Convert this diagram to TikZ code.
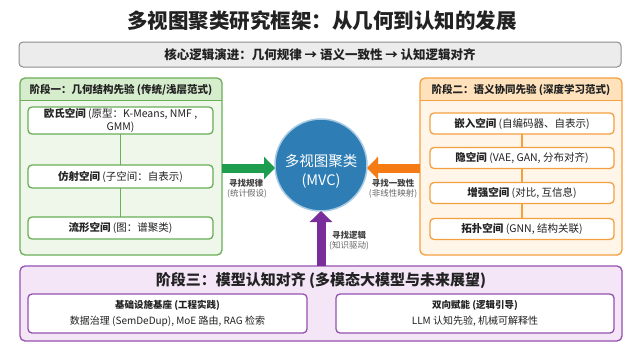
\documentclass[tikz,border=0pt]{standalone}
\usepackage{fontspec}
\setmainfont{Noto Sans CJK SC}
\usetikzlibrary{arrows.meta}
\definecolor{txt}{HTML}{222222}
\definecolor{subtxt}{HTML}{666666}
\definecolor{corefill}{HTML}{ECECEC}
\definecolor{coredraw}{HTML}{8C8C8C}
\definecolor{gfill}{HTML}{EEF7EA}
\definecolor{ghead}{HTML}{D6EDCD}
\definecolor{gdraw}{HTML}{6AAE57}
\definecolor{garr}{HTML}{1F9D4E}
\definecolor{ofill}{HTML}{FFF5E8}
\definecolor{ohead}{HTML}{FFE2BC}
\definecolor{odraw}{HTML}{F4A041}
\definecolor{oarr}{HTML}{F57C14}
\definecolor{pfill}{HTML}{F4E5F7}
\definecolor{pdraw}{HTML}{9550B0}
\definecolor{parr}{HTML}{7A2E9C}
\definecolor{cfill}{HTML}{2E7DB5}
\definecolor{cring}{HTML}{A8CBE4}
\begin{document}
\begin{tikzpicture}[x=1pt,y=-1pt,
  every node/.style={inner sep=0pt,outer sep=0pt,text=txt},
  panel/.style={rounded corners=5pt,line width=1.3pt},
  ibox/.style={draw,fill=white,rounded corners=4pt,line width=1.3pt,align=center,font=\fontsize{10.5}{13}\selectfont},
  hdr/.style={font=\fontsize{10.5}{13}\selectfont\bfseries},
  lab/.style={font=\fontsize{8.5}{10}\selectfont\bfseries,text=txt!85},
  sublab/.style={font=\fontsize{8.5}{10}\selectfont,text=subtxt},
  fat/.style={line width=9pt,-{Triangle[length=11pt,width=22pt]}}
]
\useasboundingbox[fill=white] (0,0) rectangle (624,343);

% title
\node[font=\fontsize{20.5}{24}\selectfont\bfseries] (title) at (322,21) {多视图聚类研究框架：从几何到认知的发展};

% core logic box
\node[draw=coredraw,fill=corefill,rounded corners=4pt,line width=1pt,
      minimum width=602pt,minimum height=25pt,
      font=\fontsize{12.5}{15}\selectfont\bfseries] (core) at (320,54.5)
      {核心逻辑演进：几何规律 → 语义一致性 → 认知逻辑对齐};

% ---------- green panel ----------
\node[panel,fill=gfill,minimum width=202pt,minimum height=177pt] (gp) at (121,166.5) {};
\fill[ghead] ([yshift=-22pt]gp.north west) [rounded corners=5pt] -- (gp.north west) -- (gp.north east) [sharp corners] -- ([yshift=-22pt]gp.north east) -- cycle;
\draw[gdraw,line width=0.8pt] ([yshift=-22pt]gp.north west) -- ([yshift=-22pt]gp.north east);
\draw[panel,draw=gdraw] (gp.north west) rectangle (gp.south east);
\node[hdr] (gh) at (121,90) {阶段一：几何结构先验 (传统/浅层范式)};

\node[ibox,draw=gdraw,minimum width=185pt,minimum height=27pt] (g1) at (120.5,120.5)
  {\textbf{欧氏空间} (原型：K-Means, NMF ,\\GMM)};
\node[ibox,draw=gdraw,minimum width=185pt,minimum height=23pt] (g2) at (120.5,176.5)
  {\textbf{仿射空间} (子空间：自表示)};
\node[ibox,draw=gdraw,minimum width=185pt,minimum height=22pt] (g3) at (120.5,228)
  {\textbf{流形空间} (图：谱聚类)};
\draw[gdraw,line width=1.3pt] (g1) -- (g2);
\draw[gdraw,line width=1.3pt] (g2) -- (g3);

% ---------- orange panel ----------
\node[panel,fill=ofill,minimum width=202pt,minimum height=177pt] (op) at (521,166.5) {};
\fill[ohead] ([yshift=-22pt]op.north west) [rounded corners=5pt] -- (op.north west) -- (op.north east) [sharp corners] -- ([yshift=-22pt]op.north east) -- cycle;
\draw[odraw,line width=0.8pt] ([yshift=-22pt]op.north west) -- ([yshift=-22pt]op.north east);
\draw[panel,draw=odraw] (op.north west) rectangle (op.south east);
\node[hdr] (oh) at (521,90) {阶段二：语义协同先验 (深度学习范式)};

\node[ibox,draw=odraw,minimum width=184pt,minimum height=21pt] (o1) at (522,123.5)
  {\textbf{嵌入空间} (自编码器、自表示)};
\node[ibox,draw=odraw,minimum width=184pt,minimum height=21pt] (o2) at (522,158)
  {\textbf{隐空间} (VAE, GAN, 分布对齐)};
\node[ibox,draw=odraw,minimum width=184pt,minimum height=21pt] (o3) at (522,193)
  {\textbf{增强空间} (对比, 互信息)};
\node[ibox,draw=odraw,minimum width=184pt,minimum height=21pt] (o4) at (522,229)
  {\textbf{拓扑空间} (GNN, 结构关联)};
\draw[odraw,line width=1.3pt] (o1) -- (o2);
\draw[odraw,line width=1.3pt] (o2) -- (o3);
\draw[odraw,line width=1.3pt] (o3) -- (o4);

% ---------- purple panel ----------
\node[panel,draw=pdraw,fill=pfill,minimum width=602pt,minimum height=75pt] (pp) at (321,303.5) {};
\node[font=\fontsize{15}{18}\selectfont\bfseries] (ph) at (321,281)
  {阶段三：模型认知对齐 (多模态大模型与未来展望)};
\node[ibox,draw=pdraw,minimum width=279pt,minimum height=39pt] (p1) at (167.5,313.5) {};
\node[font=\fontsize{9.5}{11}\selectfont\bfseries] (p1a) at (167.5,305) {基础设施基座 (工程实践)};
\node[font=\fontsize{10}{12}\selectfont] (p1b) at (167.5,321) {数据治理 (SemDeDup), MoE 路由, RAG 检索};
\node[ibox,draw=pdraw,minimum width=278pt,minimum height=39pt] (p2) at (475,313.5) {};
\node[font=\fontsize{9.5}{11}\selectfont\bfseries] (p2a) at (475,305) {双向赋能 (逻辑引导)};
\node[font=\fontsize{10}{12}\selectfont] (p2b) at (475,321) {LLM 认知先验, 机械可解释性};

% ---------- center circle ----------
\node[circle,fill=cfill,draw=cring,line width=1.5pt,minimum size=92pt] (c) at (321,165) {};
\node[align=center,text=white,font=\fontsize{14.5}{19}\selectfont] (ct) at (321,171) {多视图聚类\\(MVC)};

% ---------- arrows ----------
\draw[fat,garr] (gp.east |- 0,168) -- (c.west |- 0,168);
\draw[fat,oarr] (op.west |- 0,168) -- (c.east |- 0,168);
\draw[fat,parr] (pp.north -| c) -- (c.south);

\node[lab] (la1) at (246,183.5) {寻找规律};
\node[sublab] (la2) at (247,194) {(统计假设)};
\node[lab] (lb1) at (393,183.5) {寻找一致性};
\node[sublab] (lb2) at (393,194) {(非线性映射)};
\node[lab] (lc1) at (349,235) {寻找逻辑};
\node[sublab] (lc2) at (349,246) {(知识驱动)};
\end{tikzpicture}
\end{document}
